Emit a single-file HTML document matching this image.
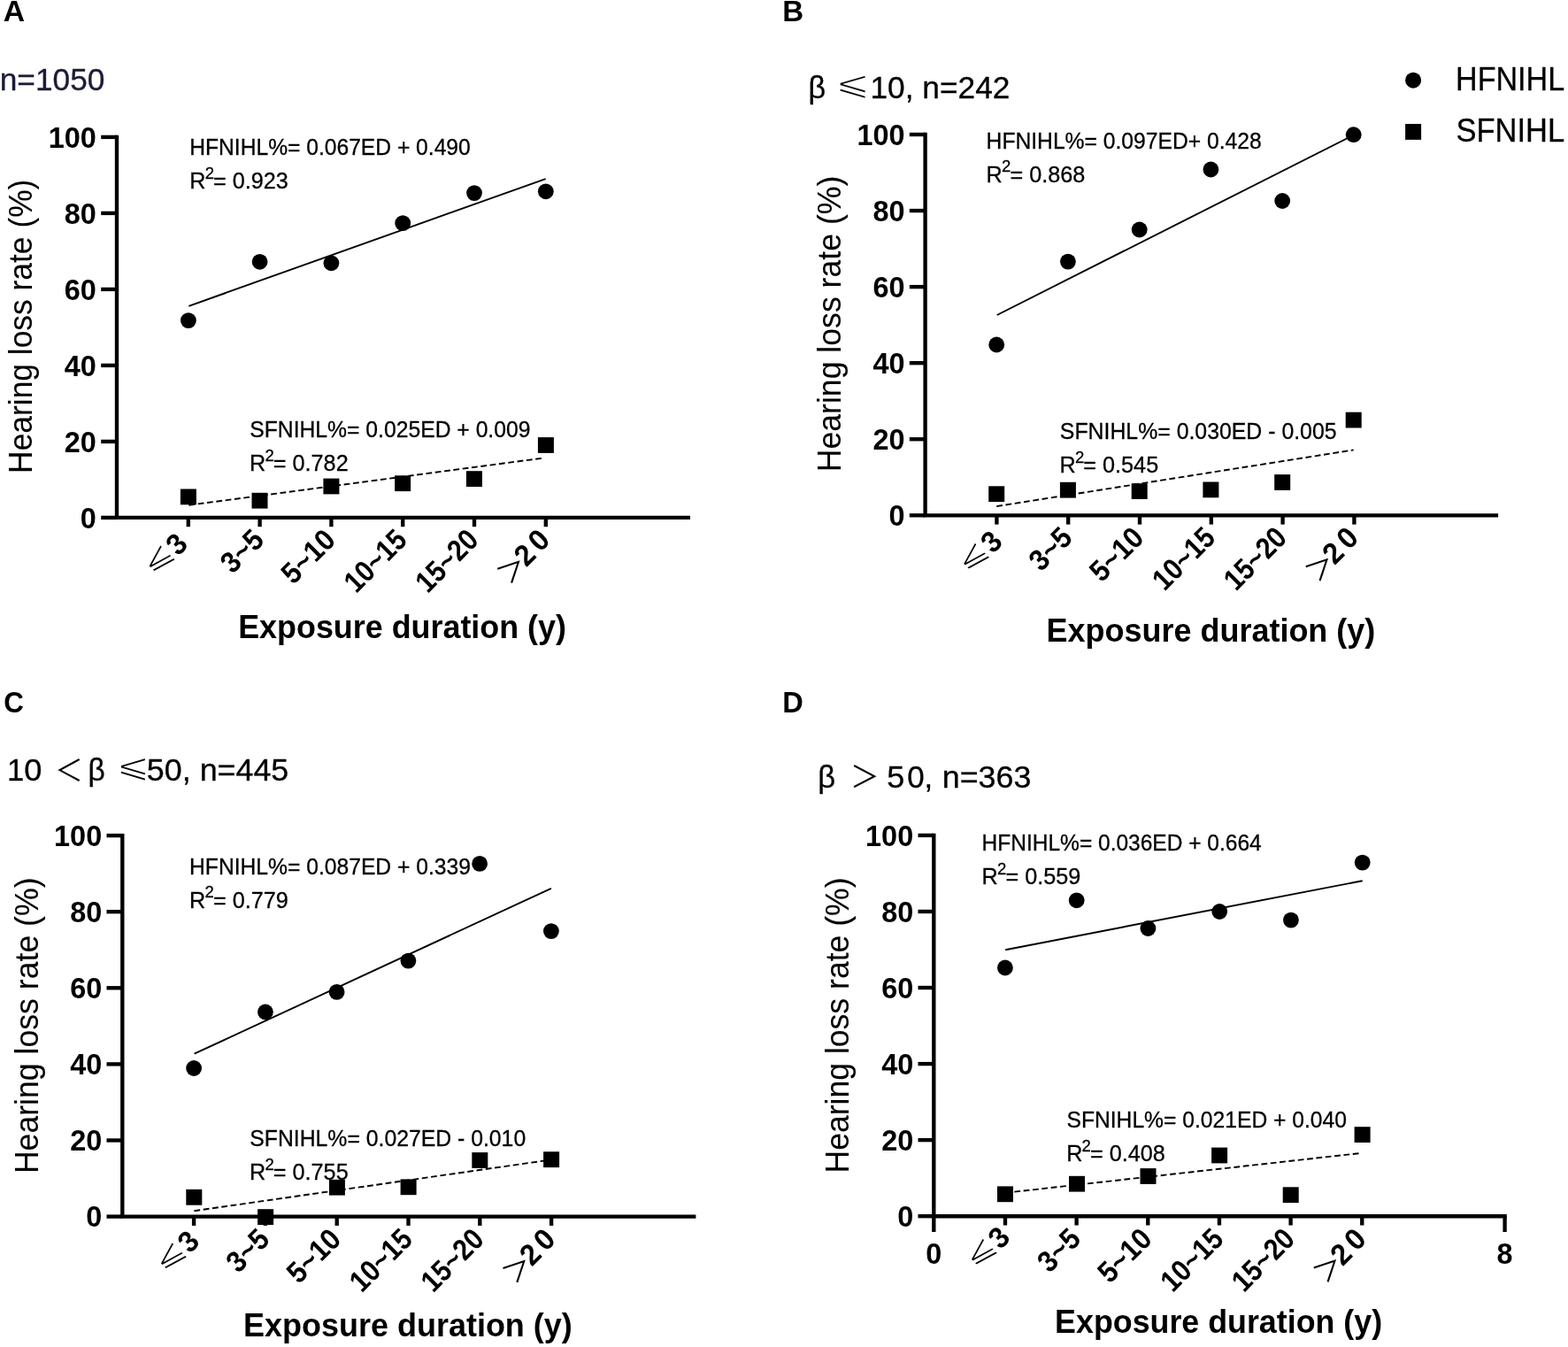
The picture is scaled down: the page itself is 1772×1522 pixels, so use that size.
<!DOCTYPE html>
<html lang="en"><head><meta charset="utf-8"><title>Figure</title>
<style>
html,body{margin:0;padding:0;background:#fff}
body{width:1772px;height:1522px;overflow:hidden}
svg{display:block;font-family:'Liberation Sans','DejaVu Sans','Noto Sans CJK SC',sans-serif}
text{white-space:pre}
.r{stroke:#000;stroke-width:.3px}
</style></head><body>
<svg width="1772" height="1522" viewBox="0 0 1772 1522">
<rect width="1772" height="1522" fill="#fff"/>
<path d="M132 152.72V584.9H780" fill="none" stroke="#000" stroke-width="4.35" stroke-linejoin="miter"/>
<path d="M114.2 584.90H132" stroke="#000" stroke-width="4.35"/>
<text x="108.9" y="596.6" font-size="33.6" font-weight="bold" text-anchor="end" textLength="18.03" lengthAdjust="spacingAndGlyphs">0</text>
<path d="M114.2 498.90H132" stroke="#000" stroke-width="4.35"/>
<text x="108.9" y="510.6" font-size="33.6" font-weight="bold" text-anchor="end" textLength="36.07" lengthAdjust="spacingAndGlyphs">20</text>
<path d="M114.2 412.90H132" stroke="#000" stroke-width="4.35"/>
<text x="108.9" y="424.6" font-size="33.6" font-weight="bold" text-anchor="end" textLength="36.07" lengthAdjust="spacingAndGlyphs">40</text>
<path d="M114.2 326.90H132" stroke="#000" stroke-width="4.35"/>
<text x="108.9" y="338.6" font-size="33.6" font-weight="bold" text-anchor="end" textLength="36.07" lengthAdjust="spacingAndGlyphs">60</text>
<path d="M114.2 240.90H132" stroke="#000" stroke-width="4.35"/>
<text x="108.9" y="252.6" font-size="33.6" font-weight="bold" text-anchor="end" textLength="36.07" lengthAdjust="spacingAndGlyphs">80</text>
<path d="M114.2 154.90H132" stroke="#000" stroke-width="4.35"/>
<text x="108.9" y="166.6" font-size="33.6" font-weight="bold" text-anchor="end" textLength="54.10" lengthAdjust="spacingAndGlyphs">100</text>
<path d="M212.80 584.9V595.1999999999999" stroke="#000" stroke-width="4.35"/>
<path d="M293.60 584.9V595.1999999999999" stroke="#000" stroke-width="4.35"/>
<path d="M374.40 584.9V595.1999999999999" stroke="#000" stroke-width="4.35"/>
<path d="M455.20 584.9V595.1999999999999" stroke="#000" stroke-width="4.35"/>
<path d="M536.00 584.9V595.1999999999999" stroke="#000" stroke-width="4.35"/>
<path d="M616.80 584.9V595.1999999999999" stroke="#000" stroke-width="4.35"/>
<g transform="translate(219.30 612.00) rotate(-45)"><text transform="translate(-60.44 -4.45) scale(1.0627 0.8660)" font-family="'DejaVu Sans',sans-serif" font-size="40" font-weight="normal" stroke="#fff" stroke-width="1.19" stroke-linejoin="miter">⩽</text><text x="-6.9" y="-0.5" font-size="33.6" font-weight="bold" text-anchor="end" textLength="18.03" lengthAdjust="spacingAndGlyphs">3</text></g>
<g transform="translate(300.10 612.00) rotate(-45)"><text font-size="33.6" font-weight="bold" text-anchor="end" textLength="52.66" lengthAdjust="spacingAndGlyphs">3~5</text></g>
<g transform="translate(380.90 612.00) rotate(-45)"><text font-size="33.6" font-weight="bold" text-anchor="end" textLength="69.93" lengthAdjust="spacingAndGlyphs">5~10</text></g>
<g transform="translate(461.70 612.00) rotate(-45)"><text font-size="33.6" font-weight="bold" text-anchor="end" textLength="83.80" lengthAdjust="spacingAndGlyphs">10~15</text></g>
<g transform="translate(542.50 612.00) rotate(-45)"><text font-size="33.6" font-weight="bold" text-anchor="end" textLength="83.80" lengthAdjust="spacingAndGlyphs">15~20</text></g>
<g transform="translate(623.30 612.00) rotate(-45)"><text transform="translate(-69.12 1.52) scale(0.8023 0.7839)" font-family="'Noto Sans CJK SC',sans-serif" font-size="40" font-weight="normal" stroke="#fff" stroke-width="0.00" stroke-linejoin="miter">＞</text><text x="-23.1" y="0.7" font-size="33.6" font-weight="bold" text-anchor="end" textLength="18.03" lengthAdjust="spacingAndGlyphs">2</text><text x="0" y="0" font-size="33.6" font-weight="bold" text-anchor="end" textLength="18.03" lengthAdjust="spacingAndGlyphs">0</text></g>
<path d="M213.4 345.8L616.6 202.1" stroke="#000" stroke-width="1.9"/>
<path d="M213.4 570.8L612.8 517.7" stroke="#000" stroke-width="1.9" stroke-dasharray="6.8 3.6"/>
<circle cx="212.9" cy="362.1" r="8.9"/>
<circle cx="293.6" cy="295.8" r="8.9"/>
<circle cx="374.4" cy="297.3" r="8.9"/>
<circle cx="455.2" cy="252.1" r="8.9"/>
<circle cx="536" cy="218.1" r="8.9"/>
<circle cx="616.8" cy="216.3" r="8.9"/>
<rect x="203.9" y="552.5" width="18" height="17.8"/>
<rect x="284.5" y="556.8000000000001" width="18" height="17.8"/>
<rect x="365.4" y="540.6" width="18" height="17.8"/>
<rect x="446.1" y="537.3000000000001" width="18" height="17.8"/>
<rect x="526.9" y="532.2" width="18" height="17.8"/>
<rect x="607.9" y="494.1" width="18" height="17.8"/>
<text x="214.23" y="175.15" font-size="25.8" class="r" textLength="317.53" lengthAdjust="spacingAndGlyphs">HFNIHL%= 0.067ED + 0.490</text>
<text x="282.28" y="493.5" font-size="25.8" class="r" textLength="317.19" lengthAdjust="spacingAndGlyphs">SFNIHL%= 0.025ED + 0.009</text>
<text x="214.25" y="213.1" font-size="25.8" class="r" transform="translate(214.25 0) scale(0.977 1) translate(-214.25 0)">R<tspan font-size="19" dy="-11.4" dx="-0.8">2</tspan><tspan dy="11.4" dx="-0.9">= 0.923</tspan></text>
<text x="282" y="532.1" font-size="25.8" class="r" transform="translate(282 0) scale(0.977 1) translate(-282 0)">R<tspan font-size="19" dy="-11.4" dx="-0.8">2</tspan><tspan dy="11.4" dx="-0.9">= 0.782</tspan></text>
<text x="269.2" y="720.7" font-size="36.8" font-weight="bold" textLength="370.79" lengthAdjust="spacingAndGlyphs">Exposure duration (y)</text>
<text x="-2.9" y="0" font-size="37.2" class="r" textLength="332.30" lengthAdjust="spacingAndGlyphs" transform="translate(36.2 532) rotate(-90)" style="stroke-width:.08px">Hearing loss rate (%)</text>
<path d="M1045.6 149.82V582.3H1693.1" fill="none" stroke="#000" stroke-width="4.35" stroke-linejoin="miter"/>
<path d="M1027.8 582.30H1045.6" stroke="#000" stroke-width="4.35"/>
<text x="1022.4999999999999" y="594.0" font-size="33.6" font-weight="bold" text-anchor="end" textLength="18.03" lengthAdjust="spacingAndGlyphs">0</text>
<path d="M1027.8 496.24H1045.6" stroke="#000" stroke-width="4.35"/>
<text x="1022.4999999999999" y="507.94" font-size="33.6" font-weight="bold" text-anchor="end" textLength="36.07" lengthAdjust="spacingAndGlyphs">20</text>
<path d="M1027.8 410.18H1045.6" stroke="#000" stroke-width="4.35"/>
<text x="1022.4999999999999" y="421.88" font-size="33.6" font-weight="bold" text-anchor="end" textLength="36.07" lengthAdjust="spacingAndGlyphs">40</text>
<path d="M1027.8 324.12H1045.6" stroke="#000" stroke-width="4.35"/>
<text x="1022.4999999999999" y="335.82" font-size="33.6" font-weight="bold" text-anchor="end" textLength="36.07" lengthAdjust="spacingAndGlyphs">60</text>
<path d="M1027.8 238.06H1045.6" stroke="#000" stroke-width="4.35"/>
<text x="1022.4999999999999" y="249.76" font-size="33.6" font-weight="bold" text-anchor="end" textLength="36.07" lengthAdjust="spacingAndGlyphs">80</text>
<path d="M1027.8 152.00H1045.6" stroke="#000" stroke-width="4.35"/>
<text x="1022.4999999999999" y="163.7" font-size="33.6" font-weight="bold" text-anchor="end" textLength="54.10" lengthAdjust="spacingAndGlyphs">100</text>
<path d="M1126.40 582.3V592.5999999999999" stroke="#000" stroke-width="4.35"/>
<path d="M1207.20 582.3V592.5999999999999" stroke="#000" stroke-width="4.35"/>
<path d="M1288.00 582.3V592.5999999999999" stroke="#000" stroke-width="4.35"/>
<path d="M1368.80 582.3V592.5999999999999" stroke="#000" stroke-width="4.35"/>
<path d="M1449.60 582.3V592.5999999999999" stroke="#000" stroke-width="4.35"/>
<path d="M1530.40 582.3V592.5999999999999" stroke="#000" stroke-width="4.35"/>
<g transform="translate(1139.90 609.30) rotate(-45)"><text transform="translate(-60.44 -4.45) scale(1.0627 0.8660)" font-family="'DejaVu Sans',sans-serif" font-size="40" font-weight="normal" stroke="#fff" stroke-width="1.19" stroke-linejoin="miter">⩽</text><text x="-6.9" y="-0.5" font-size="33.6" font-weight="bold" text-anchor="end" textLength="18.03" lengthAdjust="spacingAndGlyphs">3</text></g>
<g transform="translate(1213.70 609.60) rotate(-45)"><text font-size="33.6" font-weight="bold" text-anchor="end" textLength="52.66" lengthAdjust="spacingAndGlyphs">3~5</text></g>
<g transform="translate(1294.50 609.60) rotate(-45)"><text font-size="33.6" font-weight="bold" text-anchor="end" textLength="69.93" lengthAdjust="spacingAndGlyphs">5~10</text></g>
<g transform="translate(1375.30 609.60) rotate(-45)"><text font-size="33.6" font-weight="bold" text-anchor="end" textLength="83.80" lengthAdjust="spacingAndGlyphs">10~15</text></g>
<g transform="translate(1456.10 609.60) rotate(-45)"><text font-size="33.6" font-weight="bold" text-anchor="end" textLength="83.80" lengthAdjust="spacingAndGlyphs">15~20</text></g>
<g transform="translate(1536.90 609.60) rotate(-45)"><text transform="translate(-69.12 1.52) scale(0.8023 0.7839)" font-family="'Noto Sans CJK SC',sans-serif" font-size="40" font-weight="normal" stroke="#fff" stroke-width="0.00" stroke-linejoin="miter">＞</text><text x="-23.1" y="0.7" font-size="33.6" font-weight="bold" text-anchor="end" textLength="18.03" lengthAdjust="spacingAndGlyphs">2</text><text x="0" y="0" font-size="33.6" font-weight="bold" text-anchor="end" textLength="18.03" lengthAdjust="spacingAndGlyphs">0</text></g>
<path d="M1126.7 356L1529.4 152.8" stroke="#000" stroke-width="1.9"/>
<path d="M1126.2 572.1L1529.7 508.4" stroke="#000" stroke-width="1.9" stroke-dasharray="6.8 3.6"/>
<circle cx="1126.2" cy="389.5" r="8.9"/>
<circle cx="1206.9" cy="295.6" r="8.9"/>
<circle cx="1287.7" cy="259.5" r="8.9"/>
<circle cx="1368.4" cy="191.5" r="8.9"/>
<circle cx="1449.2" cy="227" r="8.9"/>
<circle cx="1529.7" cy="152.2" r="8.9"/>
<rect x="1117.2" y="549.3000000000001" width="18" height="17.8"/>
<rect x="1197.9" y="544.8000000000001" width="18" height="17.8"/>
<rect x="1278.7" y="546.2" width="18" height="17.8"/>
<rect x="1359.4" y="544.5" width="18" height="17.8"/>
<rect x="1440.2" y="536.1" width="18" height="17.8"/>
<rect x="1520.7" y="465.70000000000005" width="18" height="17.8"/>
<text x="1114.58" y="168.0" font-size="25.8" class="r" textLength="311.09" lengthAdjust="spacingAndGlyphs">HFNIHL%= 0.097ED+ 0.428</text>
<text x="1197.87" y="495.9" font-size="25.8" class="r" textLength="312.67" lengthAdjust="spacingAndGlyphs">SFNIHL%= 0.030ED - 0.005</text>
<text x="1114.6" y="205.8" font-size="25.8" class="r" transform="translate(1114.6 0) scale(0.977 1) translate(-1114.6 0)">R<tspan font-size="19" dy="-11.4" dx="-0.8">2</tspan><tspan dy="11.4" dx="-0.9">= 0.868</tspan></text>
<text x="1197.5" y="534.5" font-size="25.8" class="r" transform="translate(1197.5 0) scale(0.977 1) translate(-1197.5 0)">R<tspan font-size="19" dy="-11.4" dx="-0.8">2</tspan><tspan dy="11.4" dx="-0.9">= 0.545</tspan></text>
<text x="1182.59" y="725" font-size="36.8" font-weight="bold" textLength="371.70" lengthAdjust="spacingAndGlyphs">Exposure duration (y)</text>
<text x="-2.92" y="0" font-size="37.2" class="r" textLength="334.63" lengthAdjust="spacingAndGlyphs" transform="translate(950.2 530.4) rotate(-90)" style="stroke-width:.08px">Hearing loss rate (%)</text>
<path d="M138.3 941.92V1374.6H786.4" fill="none" stroke="#000" stroke-width="4.35" stroke-linejoin="miter"/>
<path d="M120.50000000000001 1374.60H138.3" stroke="#000" stroke-width="4.35"/>
<text x="115.20000000000002" y="1386.3" font-size="33.6" font-weight="bold" text-anchor="end" textLength="18.03" lengthAdjust="spacingAndGlyphs">0</text>
<path d="M120.50000000000001 1288.50H138.3" stroke="#000" stroke-width="4.35"/>
<text x="115.20000000000002" y="1300.2" font-size="33.6" font-weight="bold" text-anchor="end" textLength="36.07" lengthAdjust="spacingAndGlyphs">20</text>
<path d="M120.50000000000001 1202.40H138.3" stroke="#000" stroke-width="4.35"/>
<text x="115.20000000000002" y="1214.1" font-size="33.6" font-weight="bold" text-anchor="end" textLength="36.07" lengthAdjust="spacingAndGlyphs">40</text>
<path d="M120.50000000000001 1116.30H138.3" stroke="#000" stroke-width="4.35"/>
<text x="115.20000000000002" y="1128.0" font-size="33.6" font-weight="bold" text-anchor="end" textLength="36.07" lengthAdjust="spacingAndGlyphs">60</text>
<path d="M120.50000000000001 1030.20H138.3" stroke="#000" stroke-width="4.35"/>
<text x="115.20000000000002" y="1041.9" font-size="33.6" font-weight="bold" text-anchor="end" textLength="36.07" lengthAdjust="spacingAndGlyphs">80</text>
<path d="M120.50000000000001 944.10H138.3" stroke="#000" stroke-width="4.35"/>
<text x="115.20000000000002" y="955.8" font-size="33.6" font-weight="bold" text-anchor="end" textLength="54.10" lengthAdjust="spacingAndGlyphs">100</text>
<path d="M219.10 1374.6V1384.8999999999999" stroke="#000" stroke-width="4.35"/>
<path d="M299.90 1374.6V1384.8999999999999" stroke="#000" stroke-width="4.35"/>
<path d="M380.70 1374.6V1384.8999999999999" stroke="#000" stroke-width="4.35"/>
<path d="M461.50 1374.6V1384.8999999999999" stroke="#000" stroke-width="4.35"/>
<path d="M542.30 1374.6V1384.8999999999999" stroke="#000" stroke-width="4.35"/>
<path d="M623.10 1374.6V1384.8999999999999" stroke="#000" stroke-width="4.35"/>
<g transform="translate(232.60 1400.00) rotate(-45)"><text transform="translate(-60.44 -4.45) scale(1.0627 0.8660)" font-family="'DejaVu Sans',sans-serif" font-size="40" font-weight="normal" stroke="#fff" stroke-width="1.19" stroke-linejoin="miter">⩽</text><text x="-6.9" y="-0.5" font-size="33.6" font-weight="bold" text-anchor="end" textLength="18.03" lengthAdjust="spacingAndGlyphs">3</text></g>
<g transform="translate(306.40 1402.20) rotate(-45)"><text font-size="33.6" font-weight="bold" text-anchor="end" textLength="52.66" lengthAdjust="spacingAndGlyphs">3~5</text></g>
<g transform="translate(387.20 1402.20) rotate(-45)"><text font-size="33.6" font-weight="bold" text-anchor="end" textLength="69.93" lengthAdjust="spacingAndGlyphs">5~10</text></g>
<g transform="translate(468.00 1402.20) rotate(-45)"><text font-size="33.6" font-weight="bold" text-anchor="end" textLength="83.80" lengthAdjust="spacingAndGlyphs">10~15</text></g>
<g transform="translate(548.80 1402.20) rotate(-45)"><text font-size="33.6" font-weight="bold" text-anchor="end" textLength="83.80" lengthAdjust="spacingAndGlyphs">15~20</text></g>
<g transform="translate(629.60 1402.20) rotate(-45)"><text transform="translate(-69.12 1.52) scale(0.8023 0.7839)" font-family="'Noto Sans CJK SC',sans-serif" font-size="40" font-weight="normal" stroke="#fff" stroke-width="0.00" stroke-linejoin="miter">＞</text><text x="-23.1" y="0.7" font-size="33.6" font-weight="bold" text-anchor="end" textLength="18.03" lengthAdjust="spacingAndGlyphs">2</text><text x="0" y="0" font-size="33.6" font-weight="bold" text-anchor="end" textLength="18.03" lengthAdjust="spacingAndGlyphs">0</text></g>
<path d="M219.6 1190.7L622.9 1003.8" stroke="#000" stroke-width="1.9"/>
<path d="M219.4 1368.2L623 1310.4" stroke="#000" stroke-width="1.9" stroke-dasharray="6.8 3.6"/>
<circle cx="219.1" cy="1207" r="8.9"/>
<circle cx="299.9" cy="1143.5" r="8.9"/>
<circle cx="380.6" cy="1120.9" r="8.9"/>
<circle cx="461.4" cy="1085.6" r="8.9"/>
<circle cx="542.1" cy="975.9" r="8.9"/>
<circle cx="622.9" cy="1052.1" r="8.9"/>
<rect x="210.3" y="1343.8999999999999" width="18" height="17.8"/>
<rect x="291.1" y="1366.1999999999998" width="18" height="17.8"/>
<rect x="371.9" y="1332.8" width="18" height="17.8"/>
<rect x="452.6" y="1332.3999999999999" width="18" height="17.8"/>
<rect x="533.3" y="1302.1" width="18" height="17.8"/>
<rect x="614.1" y="1301.3" width="18" height="17.8"/>
<text x="214.08" y="988.1" font-size="25.8" class="r" textLength="317.79" lengthAdjust="spacingAndGlyphs">HFNIHL%= 0.087ED + 0.339</text>
<text x="282.28" y="1294.9" font-size="25.8" class="r" textLength="311.89" lengthAdjust="spacingAndGlyphs">SFNIHL%= 0.027ED - 0.010</text>
<text x="214.1" y="1025.7" font-size="25.8" class="r" transform="translate(214.1 0) scale(0.977 1) translate(-214.1 0)">R<tspan font-size="19" dy="-11.4" dx="-0.8">2</tspan><tspan dy="11.4" dx="-0.9">= 0.779</tspan></text>
<text x="282" y="1333.1" font-size="25.8" class="r" transform="translate(282 0) scale(0.977 1) translate(-282 0)">R<tspan font-size="19" dy="-11.4" dx="-0.8">2</tspan><tspan dy="11.4" dx="-0.9">= 0.755</tspan></text>
<text x="275.09" y="1510" font-size="36.8" font-weight="bold" textLength="371.70" lengthAdjust="spacingAndGlyphs">Exposure duration (y)</text>
<text x="-2.92" y="0" font-size="37.2" class="r" textLength="334.63" lengthAdjust="spacingAndGlyphs" transform="translate(42.8 1323.2) rotate(-90)" style="stroke-width:.08px">Hearing loss rate (%)</text>
<path d="M1055.3 941.73V1374.2H1702.7749999999999" fill="none" stroke="#000" stroke-width="4.35" stroke-linejoin="miter"/>
<path d="M1037.5 1374.20H1055.3" stroke="#000" stroke-width="4.35"/>
<text x="1032.2" y="1385.9" font-size="33.6" font-weight="bold" text-anchor="end" textLength="18.03" lengthAdjust="spacingAndGlyphs">0</text>
<path d="M1037.5 1288.14H1055.3" stroke="#000" stroke-width="4.35"/>
<text x="1032.2" y="1299.84" font-size="33.6" font-weight="bold" text-anchor="end" textLength="36.07" lengthAdjust="spacingAndGlyphs">20</text>
<path d="M1037.5 1202.08H1055.3" stroke="#000" stroke-width="4.35"/>
<text x="1032.2" y="1213.78" font-size="33.6" font-weight="bold" text-anchor="end" textLength="36.07" lengthAdjust="spacingAndGlyphs">40</text>
<path d="M1037.5 1116.02H1055.3" stroke="#000" stroke-width="4.35"/>
<text x="1032.2" y="1127.72" font-size="33.6" font-weight="bold" text-anchor="end" textLength="36.07" lengthAdjust="spacingAndGlyphs">60</text>
<path d="M1037.5 1029.96H1055.3" stroke="#000" stroke-width="4.35"/>
<text x="1032.2" y="1041.66" font-size="33.6" font-weight="bold" text-anchor="end" textLength="36.07" lengthAdjust="spacingAndGlyphs">80</text>
<path d="M1037.5 943.90H1055.3" stroke="#000" stroke-width="4.35"/>
<text x="1032.2" y="955.6" font-size="33.6" font-weight="bold" text-anchor="end" textLength="54.10" lengthAdjust="spacingAndGlyphs">100</text>
<path d="M1135.96 1374.2V1384.5" stroke="#000" stroke-width="4.35"/>
<path d="M1216.62 1374.2V1384.5" stroke="#000" stroke-width="4.35"/>
<path d="M1297.28 1374.2V1384.5" stroke="#000" stroke-width="4.35"/>
<path d="M1377.94 1374.2V1384.5" stroke="#000" stroke-width="4.35"/>
<path d="M1458.60 1374.2V1384.5" stroke="#000" stroke-width="4.35"/>
<path d="M1539.26 1374.2V1384.5" stroke="#000" stroke-width="4.35"/>
<path d="M1055.30 1374.2V1392.0" stroke="#000" stroke-width="4.35"/>
<text x="1055.3" y="1427.6000000000001" font-size="33.6" font-weight="bold" text-anchor="middle" textLength="18.03" lengthAdjust="spacingAndGlyphs">0</text>
<path d="M1700.58 1374.2V1392.0" stroke="#000" stroke-width="4.35"/>
<text x="1700.58" y="1427.6000000000001" font-size="33.6" font-weight="bold" text-anchor="middle" textLength="18.03" lengthAdjust="spacingAndGlyphs">8</text>
<g transform="translate(1148.56 1395.50) rotate(-45)"><text transform="translate(-60.44 -4.45) scale(1.0627 0.8660)" font-family="'DejaVu Sans',sans-serif" font-size="40" font-weight="normal" stroke="#fff" stroke-width="1.19" stroke-linejoin="miter">⩽</text><text x="-6.9" y="-0.5" font-size="33.6" font-weight="bold" text-anchor="end" textLength="18.03" lengthAdjust="spacingAndGlyphs">3</text></g>
<g transform="translate(1223.12 1401.90) rotate(-45)"><text font-size="33.6" font-weight="bold" text-anchor="end" textLength="52.66" lengthAdjust="spacingAndGlyphs">3~5</text></g>
<g transform="translate(1303.78 1401.90) rotate(-45)"><text font-size="33.6" font-weight="bold" text-anchor="end" textLength="69.93" lengthAdjust="spacingAndGlyphs">5~10</text></g>
<g transform="translate(1384.44 1401.90) rotate(-45)"><text font-size="33.6" font-weight="bold" text-anchor="end" textLength="83.80" lengthAdjust="spacingAndGlyphs">10~15</text></g>
<g transform="translate(1465.10 1401.90) rotate(-45)"><text font-size="33.6" font-weight="bold" text-anchor="end" textLength="83.80" lengthAdjust="spacingAndGlyphs">15~20</text></g>
<g transform="translate(1545.76 1401.90) rotate(-45)"><text transform="translate(-69.12 1.52) scale(0.8023 0.7839)" font-family="'Noto Sans CJK SC',sans-serif" font-size="40" font-weight="normal" stroke="#fff" stroke-width="0.00" stroke-linejoin="miter">＞</text><text x="-23.1" y="0.7" font-size="33.6" font-weight="bold" text-anchor="end" textLength="18.03" lengthAdjust="spacingAndGlyphs">2</text><text x="0" y="0" font-size="33.6" font-weight="bold" text-anchor="end" textLength="18.03" lengthAdjust="spacingAndGlyphs">0</text></g>
<path d="M1136.2 1073.2L1539.7 995.2" stroke="#000" stroke-width="1.9"/>
<path d="M1136 1347.8L1535.5 1303.2" stroke="#000" stroke-width="1.9" stroke-dasharray="6.8 3.6"/>
<circle cx="1135.9" cy="1093.5" r="8.9"/>
<circle cx="1216.7" cy="1017.3" r="8.9"/>
<circle cx="1297.4" cy="1049" r="8.9"/>
<circle cx="1378.2" cy="1030" r="8.9"/>
<circle cx="1458.9" cy="1039.6" r="8.9"/>
<circle cx="1539.7" cy="974.6" r="8.9"/>
<rect x="1127" y="1340.3999999999999" width="18" height="17.8"/>
<rect x="1208" y="1328.8" width="18" height="17.8"/>
<rect x="1288.5" y="1320.1" width="18" height="17.8"/>
<rect x="1369.1" y="1296.6" width="18" height="17.8"/>
<rect x="1449.7" y="1341.3" width="18" height="17.8"/>
<rect x="1530.6" y="1273.1999999999998" width="18" height="17.8"/>
<text x="1109.59" y="960.9" font-size="25.8" class="r" textLength="316.13" lengthAdjust="spacingAndGlyphs">HFNIHL%= 0.036ED + 0.664</text>
<text x="1205.48" y="1273.9" font-size="25.8" class="r" textLength="316.48" lengthAdjust="spacingAndGlyphs">SFNIHL%= 0.021ED + 0.040</text>
<text x="1109.6" y="999.1" font-size="25.8" class="r" transform="translate(1109.6 0) scale(0.977 1) translate(-1109.6 0)">R<tspan font-size="19" dy="-11.4" dx="-0.8">2</tspan><tspan dy="11.4" dx="-0.9">= 0.559</tspan></text>
<text x="1205.2" y="1312.1" font-size="25.8" class="r" transform="translate(1205.2 0) scale(0.977 1) translate(-1205.2 0)">R<tspan font-size="19" dy="-11.4" dx="-0.8">2</tspan><tspan dy="11.4" dx="-0.9">= 0.408</tspan></text>
<text x="1192.11" y="1506" font-size="36.8" font-weight="bold" textLength="369.98" lengthAdjust="spacingAndGlyphs">Exposure duration (y)</text>
<text x="-2.92" y="0" font-size="37.2" class="r" textLength="334.02" lengthAdjust="spacingAndGlyphs" transform="translate(959.4 1322.6) rotate(-90)" style="stroke-width:.08px">Hearing loss rate (%)</text>
<text x="3.66" y="23.9" font-size="33.5" font-weight="bold" textLength="24.33" lengthAdjust="spacingAndGlyphs">A</text>
<text x="884.18" y="24.2" font-size="33.5" font-weight="bold" textLength="23.92" lengthAdjust="spacingAndGlyphs">B</text>
<text x="4.21" y="805" font-size="33.5" font-weight="bold" textLength="22.64" lengthAdjust="spacingAndGlyphs">C</text>
<text x="884.32" y="805" font-size="33.5" font-weight="bold" textLength="23.55" lengthAdjust="spacingAndGlyphs">D</text>
<text x="-0.34" y="101.8" font-size="34.5" class="r" textLength="118.72" lengthAdjust="spacingAndGlyphs" fill="#1c1c38" style="stroke:#1c1c38">n=1050</text>
<text x="913.54" y="110.9" font-size="34.6" class="r" textLength="19.61" lengthAdjust="spacingAndGlyphs">β</text>
<text transform="translate(943.76 107.17) scale(1.1846 0.9538)" font-family="'DejaVu Sans',sans-serif" font-size="40" font-weight="normal" stroke="#fff" stroke-width="1.39" stroke-linejoin="miter">⩽</text>
<text x="983.51" y="110.9" font-size="34.6" class="r" textLength="157.86" lengthAdjust="spacingAndGlyphs">10, n=242</text>
<text x="8.0" y="882" font-size="34.6" class="r">1</text>
<text x="27.29" y="882" font-size="34.6" class="r" textLength="20.13" lengthAdjust="spacingAndGlyphs">0</text>
<text transform="translate(61.94 883.31) scale(0.7969 0.8430)" font-family="'Noto Sans CJK SC',sans-serif" font-size="40" font-weight="normal" stroke="#fff" stroke-width="0.04" stroke-linejoin="miter">＜</text>
<text x="99.58" y="882" font-size="34.6" class="r" textLength="19.24" lengthAdjust="spacingAndGlyphs">β</text>
<text transform="translate(131.21 878.41) scale(1.1401 0.9372)" font-family="'DejaVu Sans',sans-serif" font-size="40" font-weight="normal" stroke="#fff" stroke-width="1.34" stroke-linejoin="miter">⩽</text>
<text x="165.87" y="882" font-size="34.6" class="r" textLength="160.44" lengthAdjust="spacingAndGlyphs">50, n=445</text>
<text x="924.21" y="889.7" font-size="34.6" class="r" textLength="19.86" lengthAdjust="spacingAndGlyphs">β</text>
<text transform="translate(960.71 890.03) scale(0.8305 0.8510)" font-family="'Noto Sans CJK SC',sans-serif" font-size="40" font-weight="normal" stroke="#fff" stroke-width="0.09" stroke-linejoin="miter">＞</text>
<text x="1002.36" y="889.7" font-size="34.6" class="r" textLength="20.06" lengthAdjust="spacingAndGlyphs">5</text>
<text x="1025.24" y="889.7" font-size="34.6" class="r" textLength="19.43" lengthAdjust="spacingAndGlyphs">0</text>
<text x="1044.6" y="889.7" font-size="34.6" class="r">,</text>
<text x="1064.83" y="889.7" font-size="34.6" class="r" textLength="100.45" lengthAdjust="spacingAndGlyphs">n=363</text>
<circle cx="1597.1" cy="90.7" r="9"/>
<rect x="1588.1" y="140" width="18" height="17.9"/>
<text x="1645.11" y="102.3" font-size="36.0" class="r" textLength="123.03" lengthAdjust="spacingAndGlyphs">HFNIHL</text>
<text x="1645.53" y="159.7" font-size="36.0" class="r" textLength="122.61" lengthAdjust="spacingAndGlyphs">SFNIHL</text>
</svg>
</body></html>
